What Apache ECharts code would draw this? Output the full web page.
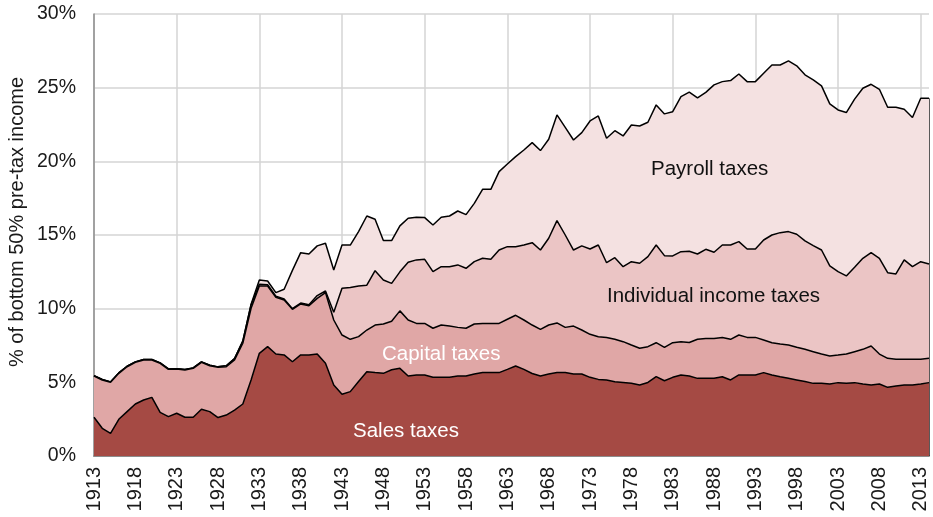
<!DOCTYPE html>
<html>
<head>
<meta charset="utf-8">
<script src="https://cdn.jsdelivr.net/npm/echarts@6/dist/echarts.min.js"></script>
<style>
html,body{margin:0;padding:0;background:#fff;}
#chart{width:933px;height:517px;}
</style>
</head>
<body>
<div id="chart"></div>
<script>
// Years 1913..2014
const years = [
 '1913','1914','1915','1916','1917','1918','1919','1920','1921','1922',
 '1923','1924','1925','1926','1927','1928','1929','1930','1931','1932',
 '1933','1934','1935','1936','1937','1938','1939','1940','1941','1942',
 '1943','1944','1945','1946','1947','1948','1949','1950','1951','1952',
 '1953','1954','1955','1956','1957','1958','1959','1960','1961','1962',
 '1963','1964','1965','1966','1967','1968','1969','1970','1971','1972',
 '1973','1974','1975','1976','1977','1978','1979','1980','1981','1982',
 '1983','1984','1985','1986','1987','1988','1989','1990','1991','1992',
 '1993','1994','1995','1996','1997','1998','1999','2000','2001','2002',
 '2003','2004','2005','2006','2007','2008','2009','2010','2011','2012',
 '2013','2014'];

// % of bottom 50% pre-tax income
const salesTaxes = [
 2.63,1.88,1.54,2.49,3.01,3.53,3.80,3.98,2.96,2.67,
 2.90,2.63,2.63,3.17,3.01,2.61,2.78,3.12,3.53,5.16,
 6.97,7.42,6.92,6.86,6.40,6.86,6.86,6.92,6.29,4.82,
 4.19,4.37,5.05,5.72,5.66,5.61,5.85,5.95,5.43,5.50,
 5.50,5.34,5.34,5.34,5.43,5.43,5.57,5.66,5.66,5.66,
 5.88,6.11,5.88,5.60,5.43,5.57,5.66,5.66,5.57,5.57,
 5.34,5.20,5.16,5.04,4.99,4.94,4.82,4.99,5.39,5.11,
 5.34,5.50,5.43,5.27,5.27,5.27,5.38,5.16,5.50,5.50,
 5.50,5.66,5.50,5.38,5.27,5.16,5.05,4.93,4.93,4.89,
 4.98,4.93,4.98,4.89,4.82,4.89,4.66,4.75,4.82,4.82,
 4.89,4.98];

const capitalTaxes = [
 2.80,3.28,3.46,3.12,3.05,2.83,2.72,2.54,3.33,3.21,
 3.00,3.21,3.32,3.19,3.12,3.41,3.28,3.40,4.12,4.87,
 4.57,4.12,3.85,3.73,3.56,3.46,3.34,3.78,4.80,4.41,
 4.02,3.55,3.05,2.83,3.23,3.35,3.30,3.90,3.80,3.50,
 3.50,3.33,3.55,3.48,3.30,3.24,3.39,3.34,3.34,3.34,
 3.40,3.44,3.35,3.29,3.17,3.32,3.37,3.07,3.25,2.98,
 2.92,2.90,2.89,2.88,2.77,2.59,2.49,2.43,2.30,2.26,
 2.35,2.26,2.27,2.65,2.71,2.71,2.67,2.76,2.71,2.55,
 2.55,2.21,2.19,2.22,2.26,2.22,2.19,2.15,1.99,1.90,
 1.87,1.99,2.10,2.35,2.65,2.03,1.97,1.81,1.74,1.74,
 1.67,1.65];

const individualIncomeTaxes = [
 0.03,0.03,0.03,0.03,0.03,0.03,0.03,0.03,0.03,0.03,
 0.03,0.03,0.03,0.03,0.03,0.03,0.06,0.10,0.15,0.22,
 0.12,0.08,0.08,0.07,0.04,0.06,0.06,0.19,0.11,0.52,
 3.17,3.51,3.44,3.04,3.69,2.99,2.57,2.65,3.92,4.31,
 4.35,3.84,3.96,4.03,4.24,4.07,4.23,4.42,4.35,4.98,
 4.93,4.66,5.09,5.59,5.38,5.89,6.95,6.27,5.16,5.71,
 5.79,6.22,5.07,5.54,5.09,5.66,5.77,6.11,6.63,6.23,
 5.89,6.11,6.20,5.79,6.05,5.85,6.27,6.40,6.34,6.00,
 6.00,6.79,7.31,7.56,7.70,7.67,7.36,7.20,7.06,6.11,
 5.66,5.30,5.73,6.18,6.33,6.50,5.81,5.80,6.75,6.29,
 6.63,6.40];

const payrollTaxes = [
 0,0,0,0,0,0,0,0,0,0,
 0,0,0,0,0,0,0,0,0,0.05,
 0.29,0.26,0.24,0.66,2.60,3.42,3.45,3.37,3.24,2.88,
 2.94,2.89,3.69,4.70,3.49,2.67,2.90,3.12,2.99,2.89,
 2.83,3.17,3.35,3.44,3.66,3.64,3.96,4.68,4.75,5.32,
 5.61,6.11,6.45,6.79,6.75,6.72,7.17,7.30,7.47,7.69,
 8.69,8.76,8.45,8.62,8.87,9.28,9.32,9.12,9.51,9.62,
 9.79,10.52,10.80,10.59,10.65,11.36,11.09,11.16,11.38,11.36,
 11.36,11.32,11.54,11.38,11.59,11.43,11.27,11.25,11.14,11.00,
 10.98,11.09,11.41,11.54,11.43,11.47,11.23,11.31,10.22,10.12,
 11.09,11.25];

const seriesNames = ['Sales taxes','Capital taxes','Individual income taxes','Payroll taxes'];
const seriesData = [salesTaxes, capitalTaxes, individualIncomeTaxes, payrollTaxes];
const seriesColors = ['#a54a44','#e0a7a6','#ebc5c5','#f4e1e1'];
const yTicks = [0,5,10,15,20,25,30];
const yAxisTitle = '% of bottom 50% pre-tax income';

const FONT = '"Liberation Sans", Arial, sans-serif';
const chart = echarts.init(document.getElementById('chart'), null, {renderer:'canvas'});

const lastIdx = years.length - 1;
const lastTotal = seriesData.reduce((s, d) => s + d[lastIdx], 0);

const series = seriesData.map((d, i) => ({
  name: seriesNames[i],
  type: 'line',
  stack: 'total',
  data: d,
  symbol: 'none',
  smooth: false,
  z: 10 - i,
  lineStyle: {color: '#000', width: 1.5},
  areaStyle: {color: seriesColors[i], opacity: 1},
  emphasis: {disabled: true}
}));
// closing edge at the right end of the stacked areas
series[0].markLine = {
  silent: true, symbol: 'none', label: {show: false},
  lineStyle: {color: '#222', width: 1.5, type: 'solid'},
  data: [[{coord: [years[lastIdx], 0]}, {coord: [years[lastIdx], lastTotal]}]]
};

chart.setOption({
  animation: false,
  backgroundColor: '#fff',
  grid: {left: 94, right: 4, top: 14, bottom: 61},
  xAxis: {
    type: 'category',
    data: years,
    boundaryGap: false,
    axisLine: {show: true, lineStyle: {color: '#8c8c8c', width: 2}},
    axisTick: {show: false},
    axisLabel: {
      interval: 4, rotate: 90, margin: 11,
      fontSize: 20, fontFamily: FONT, color: '#1a1a1a'
    },
    splitLine: {show: true, interval: 9, lineStyle: {color: '#d4d4d4', width: 1.5}}
  },
  yAxis: {
    type: 'value',
    min: yTicks[0], max: yTicks[yTicks.length - 1], interval: 5,
    axisLine: {show: true, lineStyle: {color: '#8c8c8c', width: 1.5}},
    axisTick: {show: false},
    axisLabel: {
      formatter: '{value}%', margin: 18,
      fontSize: 19.5, fontFamily: FONT, color: '#1a1a1a'
    },
    splitLine: {show: true, lineStyle: {color: '#d4d4d4', width: 1.5}}
  },
  graphic: [
    {type: 'text', x: 17, y: 222, rotation: Math.PI / 2, z: 100,
     style: {text: yAxisTitle, font: '20px ' + FONT, fill: '#1a1a1a', textAlign: 'center', textVerticalAlign: 'middle'}},
    {type: 'text', x: 651, y: 169, z: 100, style: {text: 'Payroll taxes', font: '20.5px ' + FONT, fill: '#111', textAlign: 'left', textVerticalAlign: 'middle'}},
    {type: 'text', x: 607, y: 296, z: 100, style: {text: 'Individual income taxes', font: '20.5px ' + FONT, fill: '#111', textAlign: 'left', textVerticalAlign: 'middle'}},
    {type: 'text', x: 382, y: 354, z: 100, style: {text: 'Capital taxes', font: '20.5px ' + FONT, fill: '#fff', textAlign: 'left', textVerticalAlign: 'middle'}},
    {type: 'text', x: 353, y: 431, z: 100, style: {text: 'Sales taxes', font: '20.5px ' + FONT, fill: '#fff', textAlign: 'left', textVerticalAlign: 'middle'}}
  ],
  series: series
});
</script>
</body>
</html>
